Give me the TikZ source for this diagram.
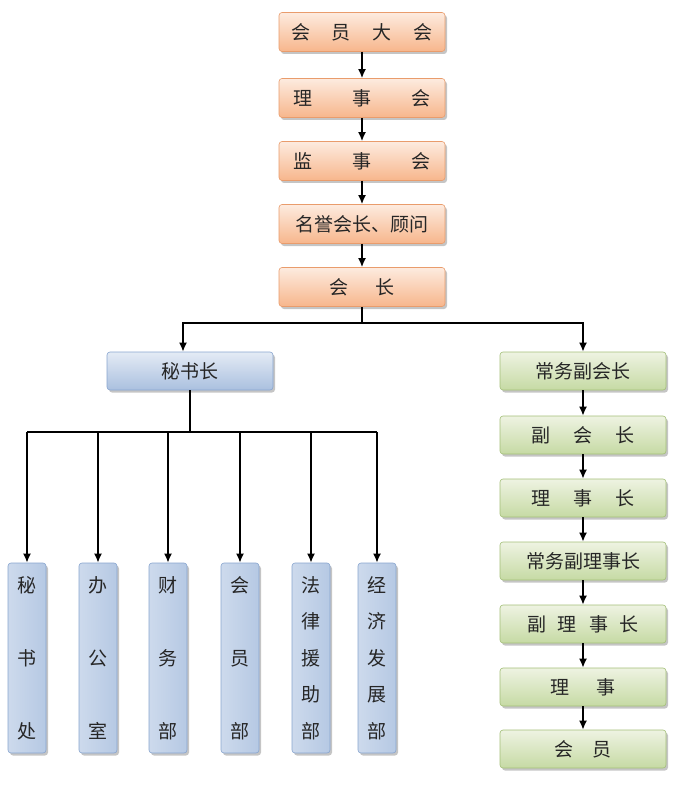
\documentclass[tikz,border=0pt]{standalone}
\usepackage{fontspec}
\newfontfamily\cjk{Noto Sans CJK SC}
\usetikzlibrary{shadows,arrows.meta}

\definecolor{orgtop}{HTML}{FDEBDF}
\definecolor{orgbot}{HTML}{F7B68C}
\definecolor{orgline}{HTML}{E99C6C}
\definecolor{grntop}{HTML}{EEF3E2}
\definecolor{grnbot}{HTML}{C6DAA4}
\definecolor{grnline}{HTML}{A3BF78}
\definecolor{blutop}{HTML}{E4EBF5}
\definecolor{blubot}{HTML}{AAC0DF}
\definecolor{bluline}{HTML}{88A5CF}

\begin{document}
\begin{tikzpicture}[x=1pt, y=-1pt, >={Latex[length=9pt,width=8pt]}, line width=1.7pt,
    box/.style={rounded corners=3pt, line width=0.6pt, inner sep=0pt, text=black!85,
        drop shadow={shadow xshift=2pt, shadow yshift=-2.5pt, fill=black!45, opacity=0.5}},
    orgbox/.style={box, draw=orgline, top color=orgtop, bottom color=orgbot,
        minimum width=166pt, minimum height=39pt, font=\fontsize{19}{22}\cjk},
    grnbox/.style={box, draw=grnline, top color=grntop, bottom color=grnbot,
        minimum width=166pt, minimum height=38pt, font=\fontsize{19}{22}\cjk},
    blubox/.style={box, draw=bluline, top color=blutop, bottom color=blubot,
        minimum width=166pt, minimum height=38pt, font=\fontsize{19}{22}\cjk},
    deptbox/.style={box, draw=bluline, left color=blutop!60!blubot, right color=blubot!80!blutop,
        minimum width=38pt, minimum height=190pt, align=center, font=\fontsize{19}{73}\cjk},
    longdept/.style={deptbox, font=\fontsize{19}{36.5}\cjk}]

    \useasboundingbox (0,0) rectangle (696,786);

    % Top chain
    \node[orgbox] (hydh) at (362, 32) {会\hspace{22pt}员\hspace{22pt}大\hspace{22pt}会};
    \node[orgbox] (lsh)  at (362, 98) {理\hspace{40pt}事\hspace{40pt}会};
    \node[orgbox] (jsh)  at (362,161) {监\hspace{40pt}事\hspace{40pt}会};
    \node[orgbox] (mygw) at (362,224) {名誉会长、顾问};
    \node[orgbox] (hz)   at (362,287) {会\hspace{27pt}长};

    \foreach \a/\b in {hydh/lsh, lsh/jsh, jsh/mygw, mygw/hz}
        \draw[->] (\a) -- (\b);

    % Second level
    \node[blubox] (msz)   at (190,371) {秘书长};
    \node[grnbox] (cwfhz) at (583,371) {常务副会长};

    \coordinate (fork) at (362,323);
    \draw (hz) -- (fork);
    \draw[->] (fork) -| ([xshift=-7pt]msz.north);
    \draw[->] (fork) -| (cwfhz.north);

    % Right chain
    \node[grnbox] (fhz)    at (583,435) {副\hspace{23pt}会\hspace{23pt}长};
    \node[grnbox] (lsz)    at (583,498) {理\hspace{23pt}事\hspace{23pt}长};
    \node[grnbox] (cwflsz) at (583,561) {常务副理事长};
    \node[grnbox] (flsz)   at (583,624) {副\hspace{12pt}理\hspace{12pt}事\hspace{12pt}长};
    \node[grnbox] (ls)     at (583,687) {理\hspace{27pt}事};
    \node[grnbox] (hy)     at (583,749) {会\hspace{20pt}员};

    \foreach \a/\b in {cwfhz/fhz, fhz/lsz, lsz/cwflsz, cwflsz/flsz, flsz/ls, ls/hy}
        \draw[->] (\a) -- (\b);

    % Departments
    \node[deptbox]  (msc)  at (27,658)  {秘\\书\\处};
    \node[deptbox]  (bgs)  at (98,658)  {办\\公\\室};
    \node[deptbox]  (cwb)  at (168,658) {财\\务\\部};
    \node[deptbox]  (hyb)  at (240,658) {会\\员\\部};
    \node[longdept] (flyzb) at (311,658) {法\\律\\援\\助\\部};
    \node[longdept] (jjfzb) at (377,658) {经\\济\\发\\展\\部};

    \coordinate (dept) at (190,432);
    \draw (msz) -- (dept);
    \draw (msc.north |- dept) -- (jjfzb.north |- dept);
    \foreach \n in {msc, bgs, cwb, hyb, flyzb, jjfzb}
        \draw[->] (\n.north |- dept) -- (\n.north);
\end{tikzpicture}
\end{document}
